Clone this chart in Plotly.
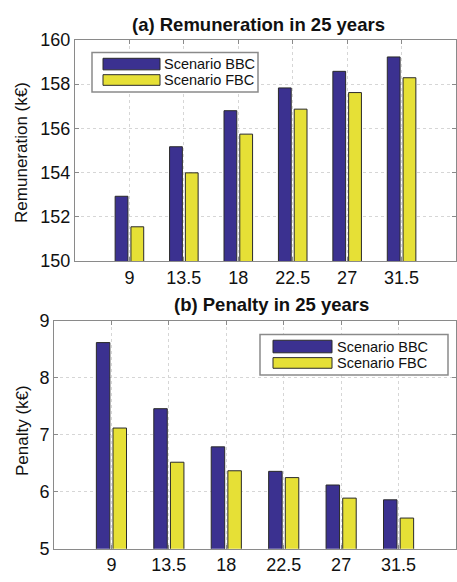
import plotly.graph_objects as go

# Charging power levels (x categories)
power = [9, 13.5, 18, 22.5, 27, 31.5]
power_labels = ["9", "13.5", "18", "22.5", "27", "31.5"]

# (a) Remuneration in 25 years (k€)
remun_bbc = [152.93, 155.17, 156.80, 157.83, 158.58, 159.23]
remun_fbc = [151.55, 153.99, 155.74, 156.87, 157.62, 158.29]

# (b) Penalty in 25 years (k€)
pen_bbc = [8.62, 7.46, 6.79, 6.36, 6.12, 5.86]
pen_fbc = [7.12, 6.52, 6.37, 6.25, 5.89, 5.54]

series_names = ["Scenario BBC", "Scenario FBC"]
BLUE = "#3b3190"
YELLOW = "#e6e036"
EDGE = "#2a2a2a"
FRAME = "#8a8a8a"
GRID = "#d6d6d6"
FONT = "Liberation Sans, Arial, sans-serif"

W, H = 457, 582


def px(x):
    return x / W


def py(y):
    return 1 - y / H


fig = go.Figure()
for (xa, ya, bbc, fbc) in [("x", "y", remun_bbc, remun_fbc), ("x2", "y2", pen_bbc, pen_fbc)]:
    fig.add_trace(go.Bar(x=power, y=bbc, name=series_names[0], xaxis=xa, yaxis=ya,
                         marker=dict(color=BLUE, line=dict(color=EDGE, width=1)),
                         showlegend=False))
    fig.add_trace(go.Bar(x=power, y=fbc, name=series_names[1], xaxis=xa, yaxis=ya,
                         marker=dict(color=YELLOW, line=dict(color=EDGE, width=1)),
                         showlegend=False))

common_x = dict(range=[4.5, 36], tickmode="array", tickvals=power, ticktext=power_labels,
                showgrid=True, gridcolor=GRID, griddash="dot", gridwidth=1,
                showline=True, linecolor=FRAME, linewidth=1, mirror="ticks",
                ticks="inside", ticklen=4, tickcolor=FRAME, zeroline=False,
                tickfont=dict(family=FONT, size=18, color="#111"))
common_y = dict(showgrid=True, gridcolor=GRID, griddash="dot", gridwidth=1,
                showline=True, linecolor=FRAME, linewidth=1, mirror="ticks",
                ticks="inside", ticklen=4, tickcolor=FRAME, zeroline=False,
                tickfont=dict(family=FONT, size=18, color="#111"))

fig.update_layout(
    width=W, height=H,
    margin=dict(l=0, r=0, t=0, b=0),
    paper_bgcolor="white", plot_bgcolor="white",
    barmode="group", bargap=0.42, bargroupgap=0.19,
    xaxis=dict(domain=[px(75), px(456)], anchor="y", **common_x),
    yaxis=dict(domain=[py(260), py(31)], anchor="x", range=[150, 160],
               tickvals=[150, 152, 154, 156, 158, 160], **common_y),
    xaxis2=dict(domain=[px(54), px(456)], anchor="y2", **common_x),
    yaxis2=dict(domain=[py(558), py(322)], anchor="x2", range=[5, 9],
                tickvals=[5, 6, 7, 8, 9], **common_y),
)


def note(text, x, y, size, angle=0, xanchor="center", bold=False):
    return dict(text=f"<b>{text}</b>" if bold else text, x=px(x), y=py(y),
                xref="paper", yref="paper", xanchor=xanchor, yanchor="middle",
                showarrow=False, textangle=angle, borderpad=0,
                font=dict(family=FONT, size=size, color="#111"))


annotations = [
    note("(a) Remuneration in 25 years", 258, 15, 18.5, bold=True),
    note("(b) Penalty in 25 years", 271, 305, 18.5, bold=True),
    note("Remuneration (k€)", 22, 148, 17, angle=-90),
    note("Penalty (k€)", 22, 436, 17, angle=-90),
]

shapes = []
# Legend boxes drawn with swatches and labels
legends = [
    # box (x0, y0, x1, y1), swatch x-range, swatch rows, text x
    dict(box=(92, 44, 258, 85), sw=(103, 160), rows=[(50, 62), (67, 78)], tx=163),
    dict(box=(260, 336, 448, 378), sw=(273, 332), rows=[(342, 355), (360, 371)], tx=336),
]
for lg in legends:
    x0, y0, x1, y1 = lg["box"]
    shapes.append(dict(type="rect", xref="paper", yref="paper", x0=px(x0), x1=px(x1),
                       y0=py(y1), y1=py(y0), line=dict(color=FRAME, width=1.5),
                       fillcolor="white", layer="above"))
    for (r0, r1), col, name in zip(lg["rows"], [BLUE, YELLOW], series_names):
        shapes.append(dict(type="rect", xref="paper", yref="paper", x0=px(lg["sw"][0]),
                           x1=px(lg["sw"][1]), y0=py(r1), y1=py(r0), fillcolor=col,
                           line=dict(color=EDGE, width=1), layer="above"))
        annotations.append(note(name, lg["tx"], (r0 + r1) / 2, 14.5, xanchor="left"))

fig.update_layout(annotations=annotations, shapes=shapes)
fig.write_html("out.html")
